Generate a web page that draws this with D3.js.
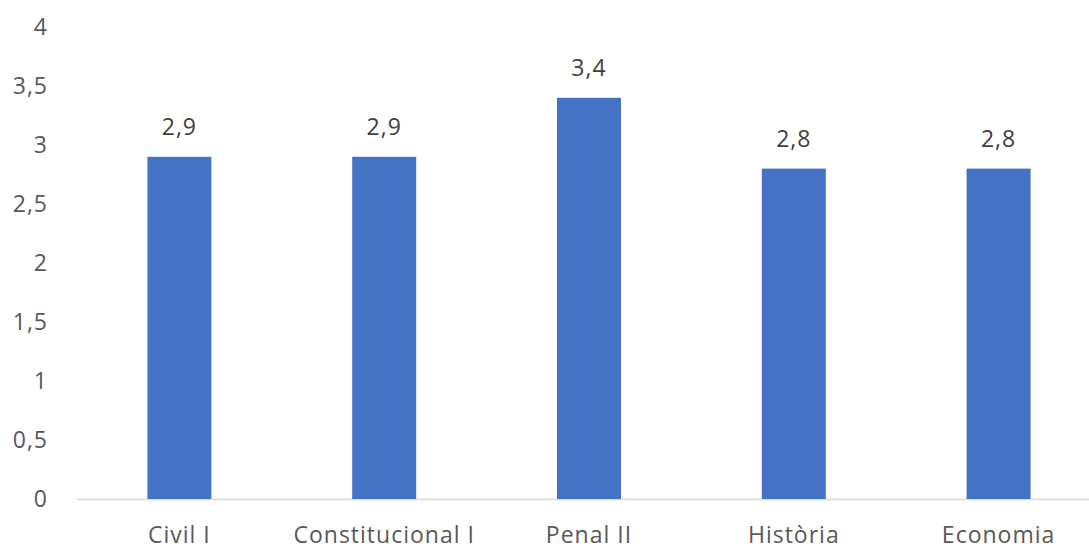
<!DOCTYPE html>
<html><head><meta charset="utf-8">
<script src="https://cdn.jsdelivr.net/npm/d3@7"></script>
<style>body{margin:0;background:#fff}svg{display:block}text{font-family:"Open Sans",sans-serif;letter-spacing:1px}</style>
</head><body><svg id="c" width="1089" height="547"></svg>
<script>
const categories = ["Civil I","Constitucional I","Penal II","Història","Economia"];
const values = [2.9, 2.9, 3.4, 2.8, 2.8];
const yTicks = [0,0.5,1,1.5,2,2.5,3,3.5,4];

const svg = d3.select("#c");
const fmt = v => String(v).replace(".", ",");
const x = d3.scaleBand().domain(categories).range([77, 1101]).paddingInner(0.6875).paddingOuter(0.34375);
const y = d3.scaleLinear().domain([0,4]).range([499, 27]);

const fs = 23;
svg.append("g").selectAll("text").data(yTicks).join("text")
  .attr("x", 48).attr("y", d => y(d) + 8)
  .attr("text-anchor", "end").attr("fill", "#595959").attr("font-size", fs)
  .text(fmt);

svg.append("line").attr("x1", 77).attr("x2", 1089).attr("y1", y(0)+0.5).attr("y2", y(0)+0.5)
  .attr("stroke", "#d9d9d9").attr("stroke-width", 1.3);

svg.append("g").selectAll("rect").data(values).join("rect")
  .attr("x", (d,i) => x(categories[i])).attr("width", x.bandwidth())
  .attr("y", d => y(d)).attr("height", d => y(0) - y(d)).attr("fill", "#4472C4");

svg.append("g").selectAll("text").data(values).join("text")
  .attr("x", (d,i) => x(categories[i]) + x.bandwidth()/2).attr("y", d => y(d) - 22)
  .attr("text-anchor", "middle").attr("fill", "#404040").attr("font-size", fs)
  .text(fmt);

svg.append("g").selectAll("text").data(categories).join("text")
  .attr("x", d => x(d) + x.bandwidth()/2).attr("y", 543)
  .attr("text-anchor", "middle").attr("fill", "#595959").attr("font-size", fs)
  .text(d => d);
</script></body></html>
